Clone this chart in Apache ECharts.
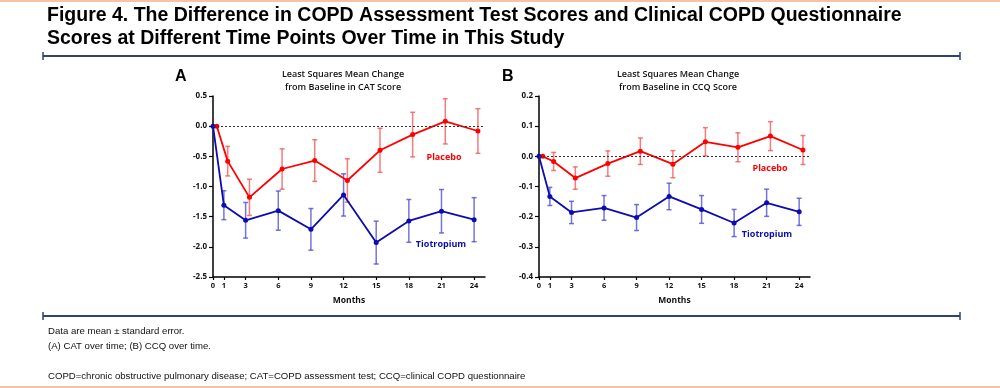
<!DOCTYPE html>
<html>
<head>
<meta charset="utf-8">
<script src="https://cdn.jsdelivr.net/npm/echarts@6/dist/echarts.min.js"></script>
<style>html,body{margin:0;padding:0;background:#fff;}#c{width:1000px;height:388px;}</style>
</head>
<body>
<div id="c"></div>
<script>
// ---- data ----
const months = [0, 1, 3, 6, 9, 12, 15, 18, 21, 24];
const catPlacebo   = [0, -0.58, -1.18, -0.71, -0.57, -0.90, -0.40, -0.14, 0.08, -0.08];
const catPlaceboSE = [0, 0.245, 0.30, 0.335, 0.345, 0.36, 0.365, 0.37, 0.375, 0.37];
const catTio       = [0, -1.31, -1.56, -1.40, -1.71, -1.14, -1.93, -1.57, -1.41, -1.55];
const catTioSE     = [0, 0.24, 0.295, 0.325, 0.345, 0.35, 0.355, 0.355, 0.36, 0.365];
const ccqPlacebo   = [0, -0.017, -0.072, -0.024, 0.017, -0.026, 0.048, 0.030, 0.067, 0.021];
const ccqPlaceboSE = [0, 0.030, 0.037, 0.042, 0.044, 0.045, 0.047, 0.048, 0.048, 0.048];
const ccqTio       = [0, -0.133, -0.186, -0.171, -0.203, -0.133, -0.176, -0.221, -0.154, -0.184];
const ccqTioSE     = [0, 0.030, 0.037, 0.041, 0.043, 0.044, 0.046, 0.045, 0.045, 0.045];
const yTicksA = { min: -2.5, max: 0.5, interval: 0.5 };
const yTicksB = { min: -0.4, max: 0.2, interval: 0.1 };

const placeboOffset = 0.35; // small horizontal dodge used in the figure
const RED = '#ff0000', RED_EB = 'rgba(240,80,80,0.75)';
const BLUE = '#0c0cb0', BLUE_EB = 'rgba(70,70,210,0.75)';
const FONT = '"Open Sans", sans-serif';

function pts(vals, off) { return months.map((m, i) => [m + off, vals[i]]); }
function ebData(vals, se, off) { return months.map((m, i) => [m + off, vals[i], se[i]]); }

function errSeries(vals, se, off, color, idx) {
  return {
    type: 'custom', xAxisIndex: idx, yAxisIndex: idx, silent: true,
    data: ebData(vals, se, off),
    renderItem: function (params, api) {
      const x = api.value(0), y = api.value(1), e = api.value(2);
      if (!e) return null;
      const t = api.coord([x, y + e]), b = api.coord([x, y - e]);
      const w = 2.5;
      const st = { stroke: color, lineWidth: 1.5 };
      return { type: 'group', children: [
        { type: 'line', shape: { x1: t[0], y1: t[1], x2: b[0], y2: b[1] }, style: st },
        { type: 'line', shape: { x1: t[0] - w, y1: t[1], x2: t[0] + w, y2: t[1] }, style: st },
        { type: 'line', shape: { x1: b[0] - w, y1: b[1], x2: b[0] + w, y2: b[1] }, style: st }
      ]};
    },
    z: 2
  };
}
function lineSeries(vals, off, color, idx, withZero) {
  const s = {
    type: 'line', xAxisIndex: idx, yAxisIndex: idx,
    data: pts(vals, off), symbol: 'circle', symbolSize: 5,
    lineStyle: { color: color, width: 1.8 }, itemStyle: { color: color },
    z: 3, animation: false
  };
  if (withZero) {
    s.markLine = { silent: true, symbol: 'none', label: { show: false },
      lineStyle: { color: '#333', type: [2, 2], width: 1 },
      data: [{ yAxis: 0 }], animation: false };
  }
  return s;
}
function xAx(idx) {
  return {
    type: 'value', gridIndex: idx, min: 0, max: 25,
    name: 'Months', nameLocation: 'middle', nameGap: 19,
    nameTextStyle: { fontFamily: FONT, fontWeight: 'bold', fontSize: 8.5, color: '#111' },
    axisLine: { onZero: false, lineStyle: { color: '#000', width: 1.5 } },
    axisTick: { show: true, length: 3, customValues: months, lineStyle: { color: '#000', width: 1.2 } },
    axisLabel: { customValues: months, fontFamily: FONT, fontWeight: 'bold', fontSize: 7.5, color: '#111', margin: 5 },
    splitLine: { show: false }
  };
}
function yAx(idx, t, dec) {
  return {
    type: 'value', gridIndex: idx, min: t.min, max: t.max, interval: t.interval,
    axisLine: { show: true, onZero: false, lineStyle: { color: '#000', width: 1.5 } },
    axisTick: { show: true, length: 4, lineStyle: { color: '#000', width: 1.2 } },
    axisLabel: { formatter: v => v.toFixed(dec), fontFamily: FONT, fontWeight: 'bold', fontSize: 8, color: '#111', margin: 6 },
    splitLine: { show: false }
  };
}

const chart = echarts.init(document.getElementById('c'), null, { renderer: 'canvas' });
const txt = (x, y, text, font, fill, align) => ({
  type: 'text', x: x, y: y, silent: true,
  style: { text: text, font: font, fill: fill || '#000', textAlign: align || 'left', textVerticalAlign: 'middle' }
});
function bar(y, x1, x2) {
  const c = '#2d4470';
  return [
    { type: 'line', silent: true, shape: { x1: x1, y1: y, x2: x2, y2: y }, style: { stroke: c, lineWidth: 2 } },
    { type: 'line', silent: true, shape: { x1: x1, y1: y - 4, x2: x1, y2: y + 4 }, style: { stroke: c, lineWidth: 1.5 } },
    { type: 'line', silent: true, shape: { x1: x2, y1: y - 4, x2: x2, y2: y + 4 }, style: { stroke: c, lineWidth: 1.5 } }
  ];
}
const NOTE = '9.6px "Liberation Sans", Arial, sans-serif';
const TITLE = 'bold 19.5px "Liberation Sans", Arial, sans-serif';

chart.setOption({
  animation: false,
  backgroundColor: '#fff',
  grid: [
    { left: 213, right: 515, top: 96, bottom: 111 },
    { left: 539, right: 190, top: 96, bottom: 111 }
  ],
  xAxis: [xAx(0), xAx(1)],
  yAxis: [yAx(0, yTicksA, 1), yAx(1, yTicksB, 1)],
  series: [
    errSeries(catPlacebo, catPlaceboSE, placeboOffset, RED_EB, 0),
    lineSeries(catPlacebo, placeboOffset, RED, 0, true),
    errSeries(catTio, catTioSE, 0, BLUE_EB, 0),
    lineSeries(catTio, 0, BLUE, 0, false),
    errSeries(ccqPlacebo, ccqPlaceboSE, placeboOffset, RED_EB, 1),
    lineSeries(ccqPlacebo, placeboOffset, RED, 1, true),
    errSeries(ccqTio, ccqTioSE, 0, BLUE_EB, 1),
    lineSeries(ccqTio, 0, BLUE, 1, false)
  ],
  graphic: [
    { type: 'rect', silent: true, shape: { x: 0, y: 0, width: 1000, height: 2 }, style: { fill: '#f7c2a6' } },
    { type: 'rect', silent: true, shape: { x: 0, y: 386, width: 1000, height: 2 }, style: { fill: '#f7c2a6' } },
    txt(47, 16, 'Figure 4. The Difference in COPD Assessment Test Scores and Clinical COPD Questionnaire', TITLE),
    txt(47, 39, 'Scores at Different Time Points Over Time in This Study', TITLE),
    ...bar(56, 43, 960),
    ...bar(316, 43, 960),
    txt(175, 77, 'A', 'bold 16px "Liberation Sans", Arial, sans-serif'),
    txt(502, 77, 'B', 'bold 16px "Liberation Sans", Arial, sans-serif'),
    txt(343, 74, 'Least Squares Mean Change', '600 9px ' + FONT, '#111', 'center'),
    txt(343, 87, 'from Baseline in CAT Score', '600 9px ' + FONT, '#111', 'center'),
    txt(678, 74, 'Least Squares Mean Change', '600 9px ' + FONT, '#111', 'center'),
    txt(678, 87, 'from Baseline in CCQ Score', '600 9px ' + FONT, '#111', 'center'),
    txt(444, 157, 'Placebo', 'bold 9px ' + FONT, RED, 'center'),
    txt(441, 244, 'Tiotropium', 'bold 9px ' + FONT, BLUE, 'center'),
    txt(770, 168, 'Placebo', 'bold 9px ' + FONT, RED, 'center'),
    txt(767, 234, 'Tiotropium', 'bold 9px ' + FONT, BLUE, 'center'),
    txt(48, 331, 'Data are mean \u00b1 standard error.', NOTE, '#111'),
    txt(48, 346, '(A) CAT over time; (B) CCQ over time.', NOTE, '#111'),
    txt(48, 376, 'COPD=chronic obstructive pulmonary disease; CAT=COPD assessment test; CCQ=clinical COPD questionnaire', NOTE, '#111')
  ]
});
</script>
</body>
</html>
